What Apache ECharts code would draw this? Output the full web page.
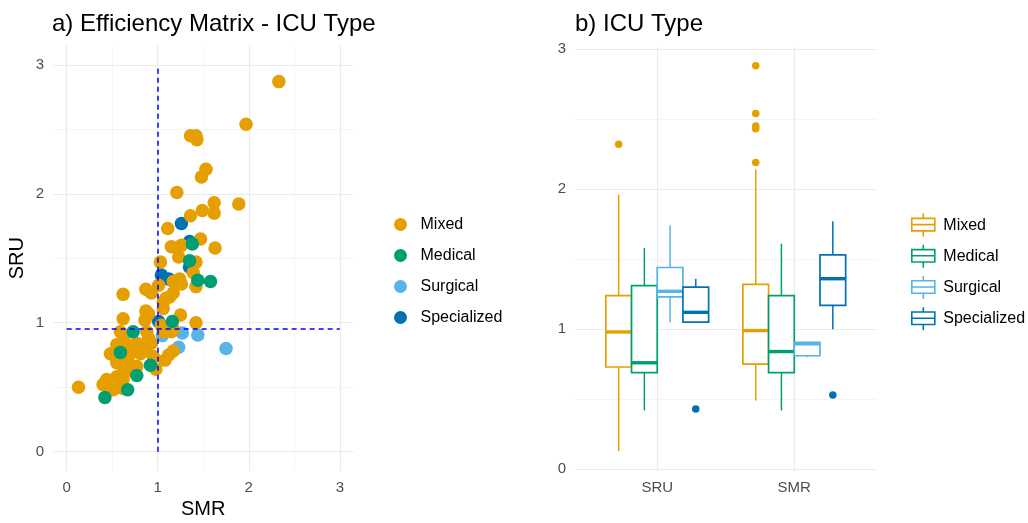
<!DOCTYPE html>
<html>
<head>
<meta charset="utf-8">
<title>ICU Type</title>
<script src="https://cdn.jsdelivr.net/npm/echarts@6/dist/echarts.min.js"></script>
<style>
  html, body { margin: 0; padding: 0; background: #fff; }
  #main { width: 1028px; height: 523px; }
</style>
</head>
<body>
<div id="main"></div>
<script>
// ICU types, legend order, Okabe-Ito colours
const icuTypes = ['Mixed', 'Medical', 'Surgical', 'Specialized'];
const icuColors = ['#E69F00', '#009E73', '#56B4E9', '#0072B2'];

// panel a: one point per unit, [SMR, SRU]
const mixedPoints = [
  [2.33, 2.87], [1.97, 2.54], [1.36, 2.45], [1.42, 2.45], [1.43, 2.42], [1.53, 2.19], [1.48, 2.13],
  [1.21, 2.01], [1.62, 1.93], [1.89, 1.92], [1.62, 1.85], [1.49, 1.87], [1.36, 1.83], [1.11, 1.73],
  [1.47, 1.65], [1.63, 1.58], [1.15, 1.59], [1.26, 1.60], [1.23, 1.51], [1.03, 1.47], [1.42, 1.47],
  [1.39, 1.39], [1.42, 1.28], [1.17, 1.32], [1.24, 1.34], [1.26, 1.30], [1.17, 1.23], [1.09, 1.19],
  [1.01, 1.29], [0.87, 1.26], [0.93, 1.23], [0.62, 1.22], [1.06, 1.16], [1.13, 1.20], [1.06, 1.11],
  [1.25, 1.06], [0.87, 1.09], [0.90, 1.07], [0.86, 1.02], [0.62, 1.03], [1.42, 1.00], [1.04, 0.98],
  [1.07, 0.97], [1.17, 0.95], [1.15, 0.93], [1.06, 0.93], [0.59, 0.93], [0.88, 0.93], [0.90, 0.88],
  [0.55, 0.83], [0.77, 0.84], [0.62, 0.87], [0.64, 0.85], [0.80, 0.81], [0.93, 0.84], [0.85, 0.78],
  [0.66, 0.71], [0.55, 0.69], [0.95, 0.74], [1.12, 0.75], [1.17, 0.78], [1.08, 0.71], [0.81, 0.76],
  [0.70, 0.79], [0.48, 0.76], [0.52, 0.75], [0.59, 0.73], [0.68, 0.74], [0.77, 0.66], [0.98, 0.64],
  [0.71, 0.63], [0.62, 0.66], [0.44, 0.56], [0.40, 0.52], [0.13, 0.50], [0.59, 0.50], [0.51, 0.48],
  [0.62, 0.56], [0.55, 0.58], [0.62, 0.49]
];
const medicalPoints = [
  [1.38, 1.61], [1.35, 1.48], [1.44, 1.33], [1.58, 1.32], [1.16, 1.01], [0.73, 0.93],
  [0.59, 0.77], [0.92, 0.67], [0.77, 0.59], [0.67, 0.48], [0.42, 0.42]
];
const surgicalPoints = [[1.05, 0.90], [1.27, 0.92], [1.44, 0.905], [1.23, 0.81], [1.75, 0.80]];
const specializedPoints = [[0.43, 0.53], [1.01, 1.01], [1.04, 1.37], [1.12, 1.34], [1.26, 1.77], [1.35, 1.63], [1.35, 1.43]];

// dashed reference lines: SMR = 1, SRU = 0.95, drawn over 0..3
const smrCut = 1;
const sruCut = 0.95;
const refExtent = [0, 3];

// panel b: [low whisker, Q1, median, Q3, high whisker] per category
const boxCategories = ['SRU', 'SMR'];
const mixedBox = [[0.13, 0.73, 0.98, 1.24, 1.96], [0.49, 0.75, 0.99, 1.32, 2.14]];
const medicalBox = [[0.42, 0.69, 0.76, 1.31, 1.58], [0.42, 0.69, 0.84, 1.24, 1.61]];
const surgicalBox = [[1.05, 1.23, 1.27, 1.44, 1.74], [0.80, 0.81, 0.895, 0.905, 0.91]];
const specializedBox = [[1.05, 1.05, 1.12, 1.30, 1.36], [1.00, 1.17, 1.36, 1.53, 1.77]];
const mixedOutliers = [[2.32], [2.19, 2.43, 2.45, 2.54, 2.88]];
const medicalOutliers = [[], []];
const surgicalOutliers = [[], []];
const specializedOutliers = [[0.43], [0.53]];

// axis breaks
const majorBreaks = [0, 1, 2, 3];
const minorBreaks = [0.5, 1.5, 2.5];

const FONT = "'Liberation Sans', Arial, Helvetica, sans-serif";
const DODGE = 0.75;                 // total dodge width per category
const BOX_W = DODGE / icuTypes.length;

const pointSets = [mixedPoints, medicalPoints, surgicalPoints, specializedPoints];
const boxSets = [mixedBox, medicalBox, surgicalBox, specializedBox];
const outlierSets = [mixedOutliers, medicalOutliers, surgicalOutliers, specializedOutliers];

function intLabel(v) {
  const r = Math.round(v);
  return Math.abs(v - r) < 1e-6 ? String(r) : '';
}
function catLabel(v) {
  const r = Math.round(v);
  if (Math.abs(v - r) < 1e-6 && r >= 1 && r <= boxCategories.length) return boxCategories[r - 1];
  return '';
}
const majorStyle = { color: '#EBEBEB', width: 1.2, type: 'solid' };
const minorStyle = { color: '#F3F3F3', width: 0.8, type: 'solid' };

function gridMarks(xMajor, xMinor, yMajor, yMinor) {
  const d = [];
  xMinor.forEach(v => d.push({ xAxis: v, lineStyle: minorStyle }));
  yMinor.forEach(v => d.push({ yAxis: v, lineStyle: minorStyle }));
  xMajor.forEach(v => d.push({ xAxis: v, lineStyle: majorStyle }));
  yMajor.forEach(v => d.push({ yAxis: v, lineStyle: majorStyle }));
  return d;
}
function markBase(data, z) {
  return {
    silent: true, symbol: ['none', 'none'], z: z, animation: false,
    label: { show: false }, emphasis: { disabled: true }, data: data
  };
}

function renderBox(params, api) {
  const x = api.value(0);
  const low = api.coord([x, api.value(1)]);
  const q1 = api.coord([x, api.value(2)]);
  const med = api.coord([x, api.value(3)]);
  const q3 = api.coord([x, api.value(4)]);
  const high = api.coord([x, api.value(5)]);
  const w = api.size([BOX_W, 0])[0];
  const color = api.visual('color');
  return {
    type: 'group',
    children: [
      { type: 'line', shape: { x1: low[0], y1: low[1], x2: q1[0], y2: q1[1] }, style: { stroke: color, lineWidth: 1.5 } },
      { type: 'line', shape: { x1: q3[0], y1: q3[1], x2: high[0], y2: high[1] }, style: { stroke: color, lineWidth: 1.5 } },
      { type: 'rect', shape: { x: q3[0] - w / 2, y: q3[1], width: w, height: q1[1] - q3[1] },
        style: { fill: '#fff', stroke: color, lineWidth: 1.7 } },
      { type: 'line', shape: { x1: med[0] - w / 2, y1: med[1], x2: med[0] + w / 2, y2: med[1] },
        style: { stroke: color, lineWidth: 3.4 } }
    ]
  };
}

const series = [];
// gridlines (under everything)
series.push({
  type: 'scatter', xAxisIndex: 0, yAxisIndex: 0, data: [], silent: true,
  markLine: markBase(gridMarks(majorBreaks, minorBreaks, majorBreaks, minorBreaks), 1)
});
series.push({
  type: 'scatter', xAxisIndex: 1, yAxisIndex: 1, data: [], silent: true,
  markLine: markBase(gridMarks([1, 2], [], majorBreaks, minorBreaks), 1)
});

// scatter points, drawn so that overlaps look like the reference
[3, 2, 0, 1].forEach(i => {
  series.push({
    name: icuTypes[i], type: 'scatter', xAxisIndex: 0, yAxisIndex: 0,
    symbol: 'circle', symbolSize: 13.5, data: pointSets[i],
    itemStyle: { color: icuColors[i], opacity: 1 }, z: 3, silent: true
  });
});

// reference lines
series.push({
  type: 'scatter', xAxisIndex: 0, yAxisIndex: 0, data: [], silent: true,
  markLine: Object.assign(markBase([
    [{ coord: [refExtent[0], sruCut] }, { coord: [refExtent[1], sruCut] }],
    [{ coord: [smrCut, refExtent[0]] }, { coord: [smrCut, refExtent[1]] }]
  ], 6), { lineStyle: { color: '#0000FF', width: 1.5, type: [5, 4] } })
});

// box plots, dodged within each category
icuTypes.forEach((name, i) => {
  const offset = -DODGE / 2 + BOX_W * (i + 0.5);
  const boxData = boxSets[i].map((s, c) => [c + 1 + offset].concat(s));
  const outData = [];
  outlierSets[i].forEach((arr, c) => arr.forEach(v => outData.push([c + 1 + offset, v])));
  series.push({
    name: name, type: 'custom', xAxisIndex: 1, yAxisIndex: 1,
    renderItem: renderBox, data: boxData,
    encode: { x: 0, y: [1, 2, 3, 4, 5] },
    itemStyle: { color: icuColors[i] }, z: 3, silent: true
  });
  series.push({
    name: name, type: 'scatter', xAxisIndex: 1, yAxisIndex: 1,
    symbol: 'circle', symbolSize: 7.5, data: outData,
    itemStyle: { color: icuColors[i], opacity: 1 }, z: 4, silent: true
  });
});

const tickLabel = { color: '#4D4D4D', fontSize: 15, fontFamily: FONT };
const hidden = { axisLine: { show: false }, axisTick: { show: false }, splitLine: { show: false } };
const boxIcon = 'path://M12,0L12,5M0,5L24,5L24,18L0,18ZM0,11.5L24,11.5M12,18L12,24';

const chart = echarts.init(document.getElementById('main'));
chart.setOption({
  animation: false,
  backgroundColor: '#fff',
  title: [
    { text: 'a) Efficiency Matrix - ICU Type', left: 52, top: 12, padding: 0,
      textStyle: { fontSize: 24, fontWeight: 'normal', color: '#000', fontFamily: FONT } },
    { text: 'b) ICU Type', left: 575, top: 12, padding: 0,
      textStyle: { fontSize: 24, fontWeight: 'normal', color: '#000', fontFamily: FONT } }
  ],
  grid: [
    { left: 53, top: 45.5, width: 300.5, height: 425.5, containLabel: false, outerBoundsMode: 'none' },
    { left: 575, top: 47.2, width: 301.5, height: 423.8, containLabel: false, outerBoundsMode: 'none' }
  ],
  xAxis: [
    Object.assign({
      type: 'value', gridIndex: 0, min: -0.15, max: 3.15, interval: 0.05,
      name: 'SMR', nameLocation: 'middle', nameGap: 28,
      nameTextStyle: { fontSize: 20, color: '#000', fontFamily: FONT },
      axisLabel: Object.assign({ formatter: intLabel, margin: 9 }, tickLabel)
    }, hidden),
    Object.assign({
      type: 'value', gridIndex: 1, min: 0.4, max: 2.6, interval: 0.2,
      axisLabel: Object.assign({ formatter: catLabel, margin: 9 }, tickLabel)
    }, hidden)
  ],
  yAxis: [
    Object.assign({
      type: 'value', gridIndex: 0, min: -0.15, max: 3.15, interval: 0.05,
      name: 'SRU', nameLocation: 'middle', nameGap: 26,
      nameTextStyle: { fontSize: 20, color: '#000', fontFamily: FONT },
      axisLabel: Object.assign({ formatter: intLabel, margin: 9 }, tickLabel)
    }, hidden),
    Object.assign({
      type: 'value', gridIndex: 1, min: -0.0125, max: 3.0125, interval: 0.0125,
      axisLabel: Object.assign({ formatter: intLabel, margin: 9 }, tickLabel)
    }, hidden)
  ],
  legend: [
    {
      orient: 'vertical', left: 394, top: 216.5, padding: 0, itemGap: 15,
      itemWidth: 30, itemHeight: 13, selectedMode: false,
      textStyle: { fontSize: 16, lineHeight: 16, color: '#000', fontFamily: FONT },
      data: icuTypes.map((n, i) => ({ name: n, icon: 'circle', itemStyle: { color: icuColors[i], borderWidth: 0 } }))
    },
    {
      orient: 'vertical', left: 911, top: 212.8, padding: 0, itemGap: 6.6,
      itemWidth: 24, itemHeight: 23, selectedMode: false,
      textStyle: { fontSize: 16, lineHeight: 16, color: '#000', fontFamily: FONT, padding: [0, 0, 0, 3] },
      data: icuTypes.map((n, i) => ({ name: n, icon: boxIcon,
        itemStyle: { color: '#fff', borderColor: icuColors[i], borderWidth: 1.6 } }))
    }
  ],
  series: series
});
window.onresize = function () { chart.resize(); };
</script>
</body>
</html>
